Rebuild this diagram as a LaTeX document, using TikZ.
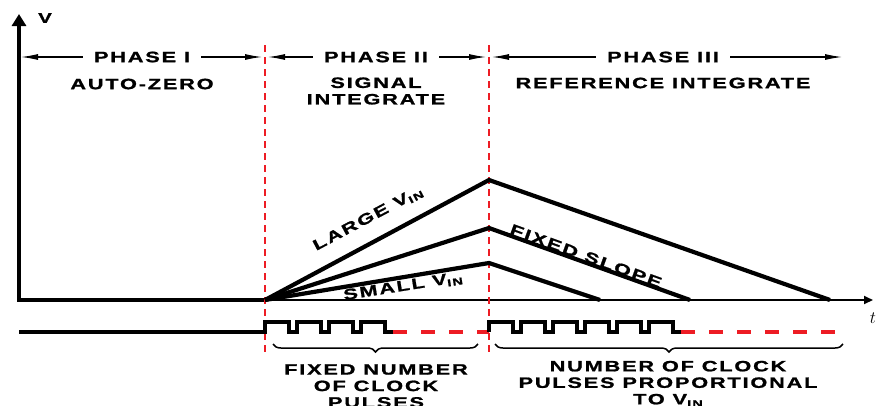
\documentclass[tikz,border=0pt]{standalone}
\usepackage{fontspec}
\setmainfont{Liberation Sans}
\newfontfamily\capsfont{Liberation Sans Bold}[FakeStretch=1.45, LetterSpace=12, FakeBold=1.2]
\usetikzlibrary{arrows.meta, positioning, decorations.pathreplacing, calc}
\definecolor{dashred}{RGB}{237,28,36}
\newcommand{\Vin}{V\raisebox{-0.35ex}{\fontsize{10}{10}\selectfont IN}}

\begin{document}
\begin{tikzpicture}[
  x=1pt, y=-1pt,
  lbl/.style={font=\capsfont\fontsize{15}{16.5}\selectfont,
              align=center, inner sep=0pt},
  phase/.style={lbl, inner xsep=11pt},
  axis/.style={line width=4.2pt, line join=miter},
  taxis/.style={line width=1.8pt},
  ramp/.style={line width=4.2pt, line join=miter},
  parr/.style={-{Latex[length=17pt,width=6pt]}, line width=1.1pt},
  bound/.style={dashred, line width=2.5pt, dash pattern=on 7pt off 5pt},
  pulse/.style={line width=3.8pt, line join=miter},
  rdash/.style={dashred, line width=3.8pt, dash pattern=on 14pt off 14pt},
  brc/.style={decorate, decoration={brace, mirror, amplitude=8pt},
              line width=1.5pt}
]
\fill[white] (0,0) rectangle (878,405);
\useasboundingbox (0,0) rectangle (878,405);

% ── Axes ──
\coordinate (O)    at (19,300);
\coordinate (vtop) at (19,14);
\coordinate (s2)   at (265,300);
\coordinate (tend) at (873,300);
\draw[axis, {Triangle[width=14pt,length=12pt]}-] (vtop) -- (O) -- (s2);
\draw[taxis, -{Triangle[width=8pt,length=9pt]}] (s2) -- (tend);
\node[font=\capsfont\fontsize{14}{14}\selectfont] (vlbl) at (45,18) {V};
\node[font=\fontsize{17}{17}\selectfont] (tlbl) at (873,318) {$t$};

% ── Phase boundaries ──
\coordinate (b2top) at (265,45);  \coordinate (b2bot) at (265,352);
\coordinate (b3top) at (489,45);  \coordinate (b3bot) at (489,352);
\draw[bound] (b2top) -- (b2bot);
\draw[bound] (b3top) -- (b3bot);

% ── Phase headers ──
\node[phase] (p1) at (142,57) {PHASE I};
\node[phase] (p2) at (376,57) {PHASE II};
\node[phase] (p3) at (663,57) {PHASE III};
\coordinate (e0)  at (21,57);
\coordinate (e1l) at (262,57);  \coordinate (e1r) at (268,57);
\coordinate (e2l) at (486,57);  \coordinate (e2r) at (492,57);
\coordinate (e3)  at (842,57);
\draw[parr] (p1.west) -- (e0);
\draw[parr] (p1.east) -- (e1l);
\draw[parr] (p2.west) -- (e1r);
\draw[parr] (p2.east) -- (e2l);
\draw[parr] (p3.west) -- (e2r);
\draw[parr] (p3.east) -- (e3);

\node[lbl] (az)  at (142,84) {AUTO-ZERO};
\node[lbl] (sig) at (376,91) {SIGNAL\\INTEGRATE};
\node[lbl] (ref) at (663,83) {REFERENCE INTEGRATE};

% ── Integrator ramps ──
\coordinate (pkL) at (489,180);  \coordinate (enL) at (830,300);
\coordinate (pkM) at (489,228);  \coordinate (enM) at (690,300);
\coordinate (pkS) at (489,263);  \coordinate (enS) at (600,300);
\draw[ramp] (s2) -- (pkL) -- (enL);
\draw[ramp] (s2) -- (pkM) -- (enM);
\draw[ramp] (s2) -- (pkS) -- (enS);

\node[lbl, rotate=28]  (large) at (368,219) {LARGE \Vin};
\node[lbl, rotate=9]   (small) at (403,287) {SMALL \Vin};
\node[lbl, rotate=-20] (fixed) at (586,256) {FIXED SLOPE};

% ── Clock pulses ──
\coordinate (c0) at (19,332);
\coordinate (c2) at (265,332);
\coordinate (c3) at (489,332);
\coordinate (cend) at (840,332);
\draw[pulse] (c0) -- (c2)
  \foreach \i in {1,...,4} { -- ++(0,-10) -- ++(24,0) -- ++(0,10) -- ++(8,0) };
\draw[rdash] ($(c2)+(128,0)$) -- (c3);
\draw[pulse] (c3)
  \foreach \i in {1,...,6} { -- ++(0,-10) -- ++(24,0) -- ++(0,10) -- ++(8,0) };
\draw[rdash] ($(c3)+(192,0)$) -- (cend);

% ── Braces and counts ──
\coordinate (br1a) at (273,344);  \coordinate (br1b) at (478,344);
\coordinate (br2a) at (495,344);  \coordinate (br2b) at (843,344);
\draw[brc] (br1a) -- (br1b);
\draw[brc] (br2a) -- (br2b);
\node[lbl] (fixn) at (376,386) {FIXED NUMBER\\OF CLOCK\\PULSES};
\node[lbl] (prop) at (668,384) {NUMBER OF CLOCK\\PULSES PROPORTIONAL\\TO \Vin};

\end{tikzpicture}
\end{document}
